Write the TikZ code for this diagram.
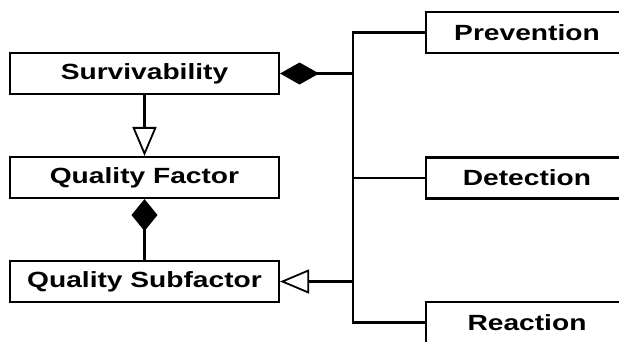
\documentclass[tikz,border=0pt]{standalone}
\usepackage{fontspec}
\setmainfont{Liberation Sans}[FakeStretch=1.28]
\usetikzlibrary{arrows.meta}
\begin{document}
\begin{tikzpicture}[x=1pt,y=-1pt,
  line width=2.1pt,
  cls/.style={draw, line width=2.1pt, rectangle, inner sep=0pt, minimum height=41pt,
    font=\fontsize{22}{26}\selectfont\bfseries, text=black},
  leftcls/.style={cls, minimum width=269pt},
  rightcls/.style={cls, minimum width=202pt},
  genarrow/.style={-{Triangle[open, length=29pt, width=24pt, line width=1.8pt]}},
  compH/.style={-{Diamond[length=39pt, width=22pt, fill=black]}},
  compV/.style={-{Diamond[length=32pt, width=26pt, fill=black]}}]
\useasboundingbox (0,0) rectangle (619,341);
\clip (0,0) rectangle (619,341);

% classes on the left
\node[leftcls] (surv) at (144.5,73.5) {Survivability};
\node[leftcls] (qf)   at (144.5,177.5) {Quality Factor};
\node[leftcls] (qs)   at (144.5,281.5) {Quality Subfactor};

% classes on the right
\node[rightcls] (prev) at (527,32.5)  {Prevention};
\node[rightcls] (det)  at (527,178)   {Detection};
\node[rightcls] (reac) at (527,322.5) {Reaction};

% vertical bus joining the right-hand classes
\coordinate (bus) at (353,0);
\draw (prev.west) -| (bus |- reac.west) -- (reac.west);
\draw (det.west) -- (bus |- det.west);

% relations
\draw[compH] (bus |- surv.east) -- (surv.east);
\draw[genarrow] (surv.south) -- (qf.north);
\draw[compV] (qs.north) -- (qf.south);
\draw[genarrow] (bus |- qs.east) -- (qs.east);
\end{tikzpicture}
\end{document}
